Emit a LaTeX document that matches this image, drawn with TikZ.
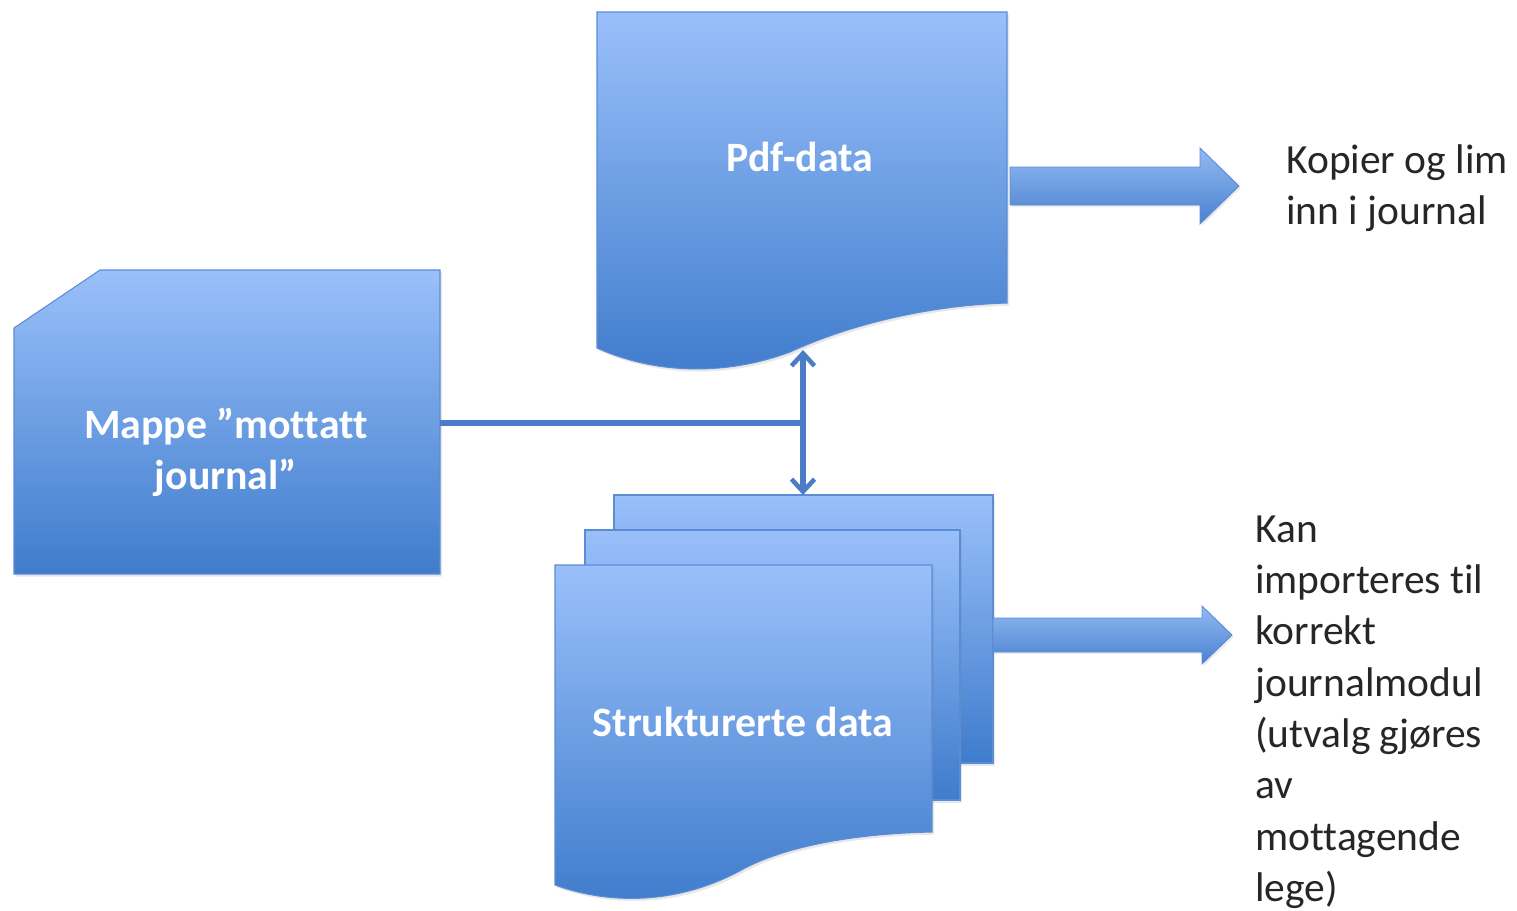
\documentclass[tikz,border=0pt]{standalone}
\usepackage{fontspec}
\setmainfont{Carlito}[Ligatures=NoCommon]
\usetikzlibrary{arrows.meta,shadows}
\definecolor{topc}{HTML}{9AC0FA}
\definecolor{botc}{HTML}{3F7CCC}
\definecolor{edgec}{HTML}{5B8CD6}
\definecolor{linec}{HTML}{4A7CC8}
\definecolor{atop}{HTML}{92B9F2}
\definecolor{abot}{HTML}{4A82D0}
\tikzset{
  shapefill/.style={top color=topc, bottom color=botc, draw=edgec, line width=0.6pt,
    drop shadow={opacity=0.18, shadow xshift=1.2pt, shadow yshift=-1.5pt}},
  arrowfill/.style={top color=atop, bottom color=abot, draw=edgec, line width=0.5pt,
    drop shadow={opacity=0.15, shadow xshift=1pt, shadow yshift=-1.2pt}},
  boxtext/.style={text=white, font=\bfseries\fontsize{23.8}{29}\selectfont, align=center, inner sep=0pt},
  sidetext/.style={text=black!85, font=\fontsize{23.6}{29.2}\selectfont, align=left, inner sep=0pt, anchor=west},
  link/.style={draw=linec, line width=3.3pt},
  linkarrow/.style={link, {Straight Barb[length=0.25cm,width=0.46cm,line width=2.6pt]}-{Straight Barb[length=0.25cm,width=0.46cm,line width=2.6pt]}}
}
\begin{document}
\begin{tikzpicture}[x=0.02cm,y=-0.02cm]
\useasboundingbox (0,0) rectangle (1517,910);

% Mappe card
\path[shapefill] (14,328) -- (100,270) -- (440,270) -- (440,574) -- (14,574) -- cycle;
\node[boxtext] (mappe) at (226,452) {Mappe ”mottatt\\journal”};
\coordinate (mappeR) at (440,423);

% Pdf-data document
\path[shapefill] (597,12) -- (1007,12) -- (1007,303)
  .. controls (940,305) and (860,320) .. (790,352)
  .. controls (720,378) and (650,372) .. (597,348) -- cycle;
\node[boxtext] (pdf) at (800,157) {Pdf-data};
\coordinate (pdfB) at (803,350);

% Strukturerte data multi-document
\path[shapefill] (614,495) rectangle (993,763);
\path[shapefill] (585,530) rectangle (960,800);
\path[shapefill] (555,565) -- (932,565) -- (932,832)
  .. controls (880,833) and (800,840) .. (745,868)
  .. controls (680,905) and (610,905) .. (555,885) -- cycle;
\node[boxtext] (str) at (743,722) {Strukturerte data};
\coordinate (strT) at (803,495);

% block arrows
\path[arrowfill] (1010,167) -- (1200,167) -- (1200,148) -- (1239,186) -- (1200,224) -- (1200,205) -- (1010,205) -- cycle;
\path[arrowfill] (993,618) -- (1202,618) -- (1202,606) -- (1232,635) -- (1202,664) -- (1202,652) -- (993,652) -- cycle;

% connectors
\coordinate (junc) at (803,423);
\draw[link] (mappeR) -- (junc);
\draw[linkarrow] (pdfB) -- (strT);

% side texts
\node[sidetext] (kopier) at (1286,188) {Kopier og lim\\inn i journal};
\node[sidetext] (kan) at (1255,712) {Kan\\importeres til\\korrekt\\journalmodul\\(utvalg gjøres\\av\\mottagende\\lege)};
\end{tikzpicture}
\end{document}
